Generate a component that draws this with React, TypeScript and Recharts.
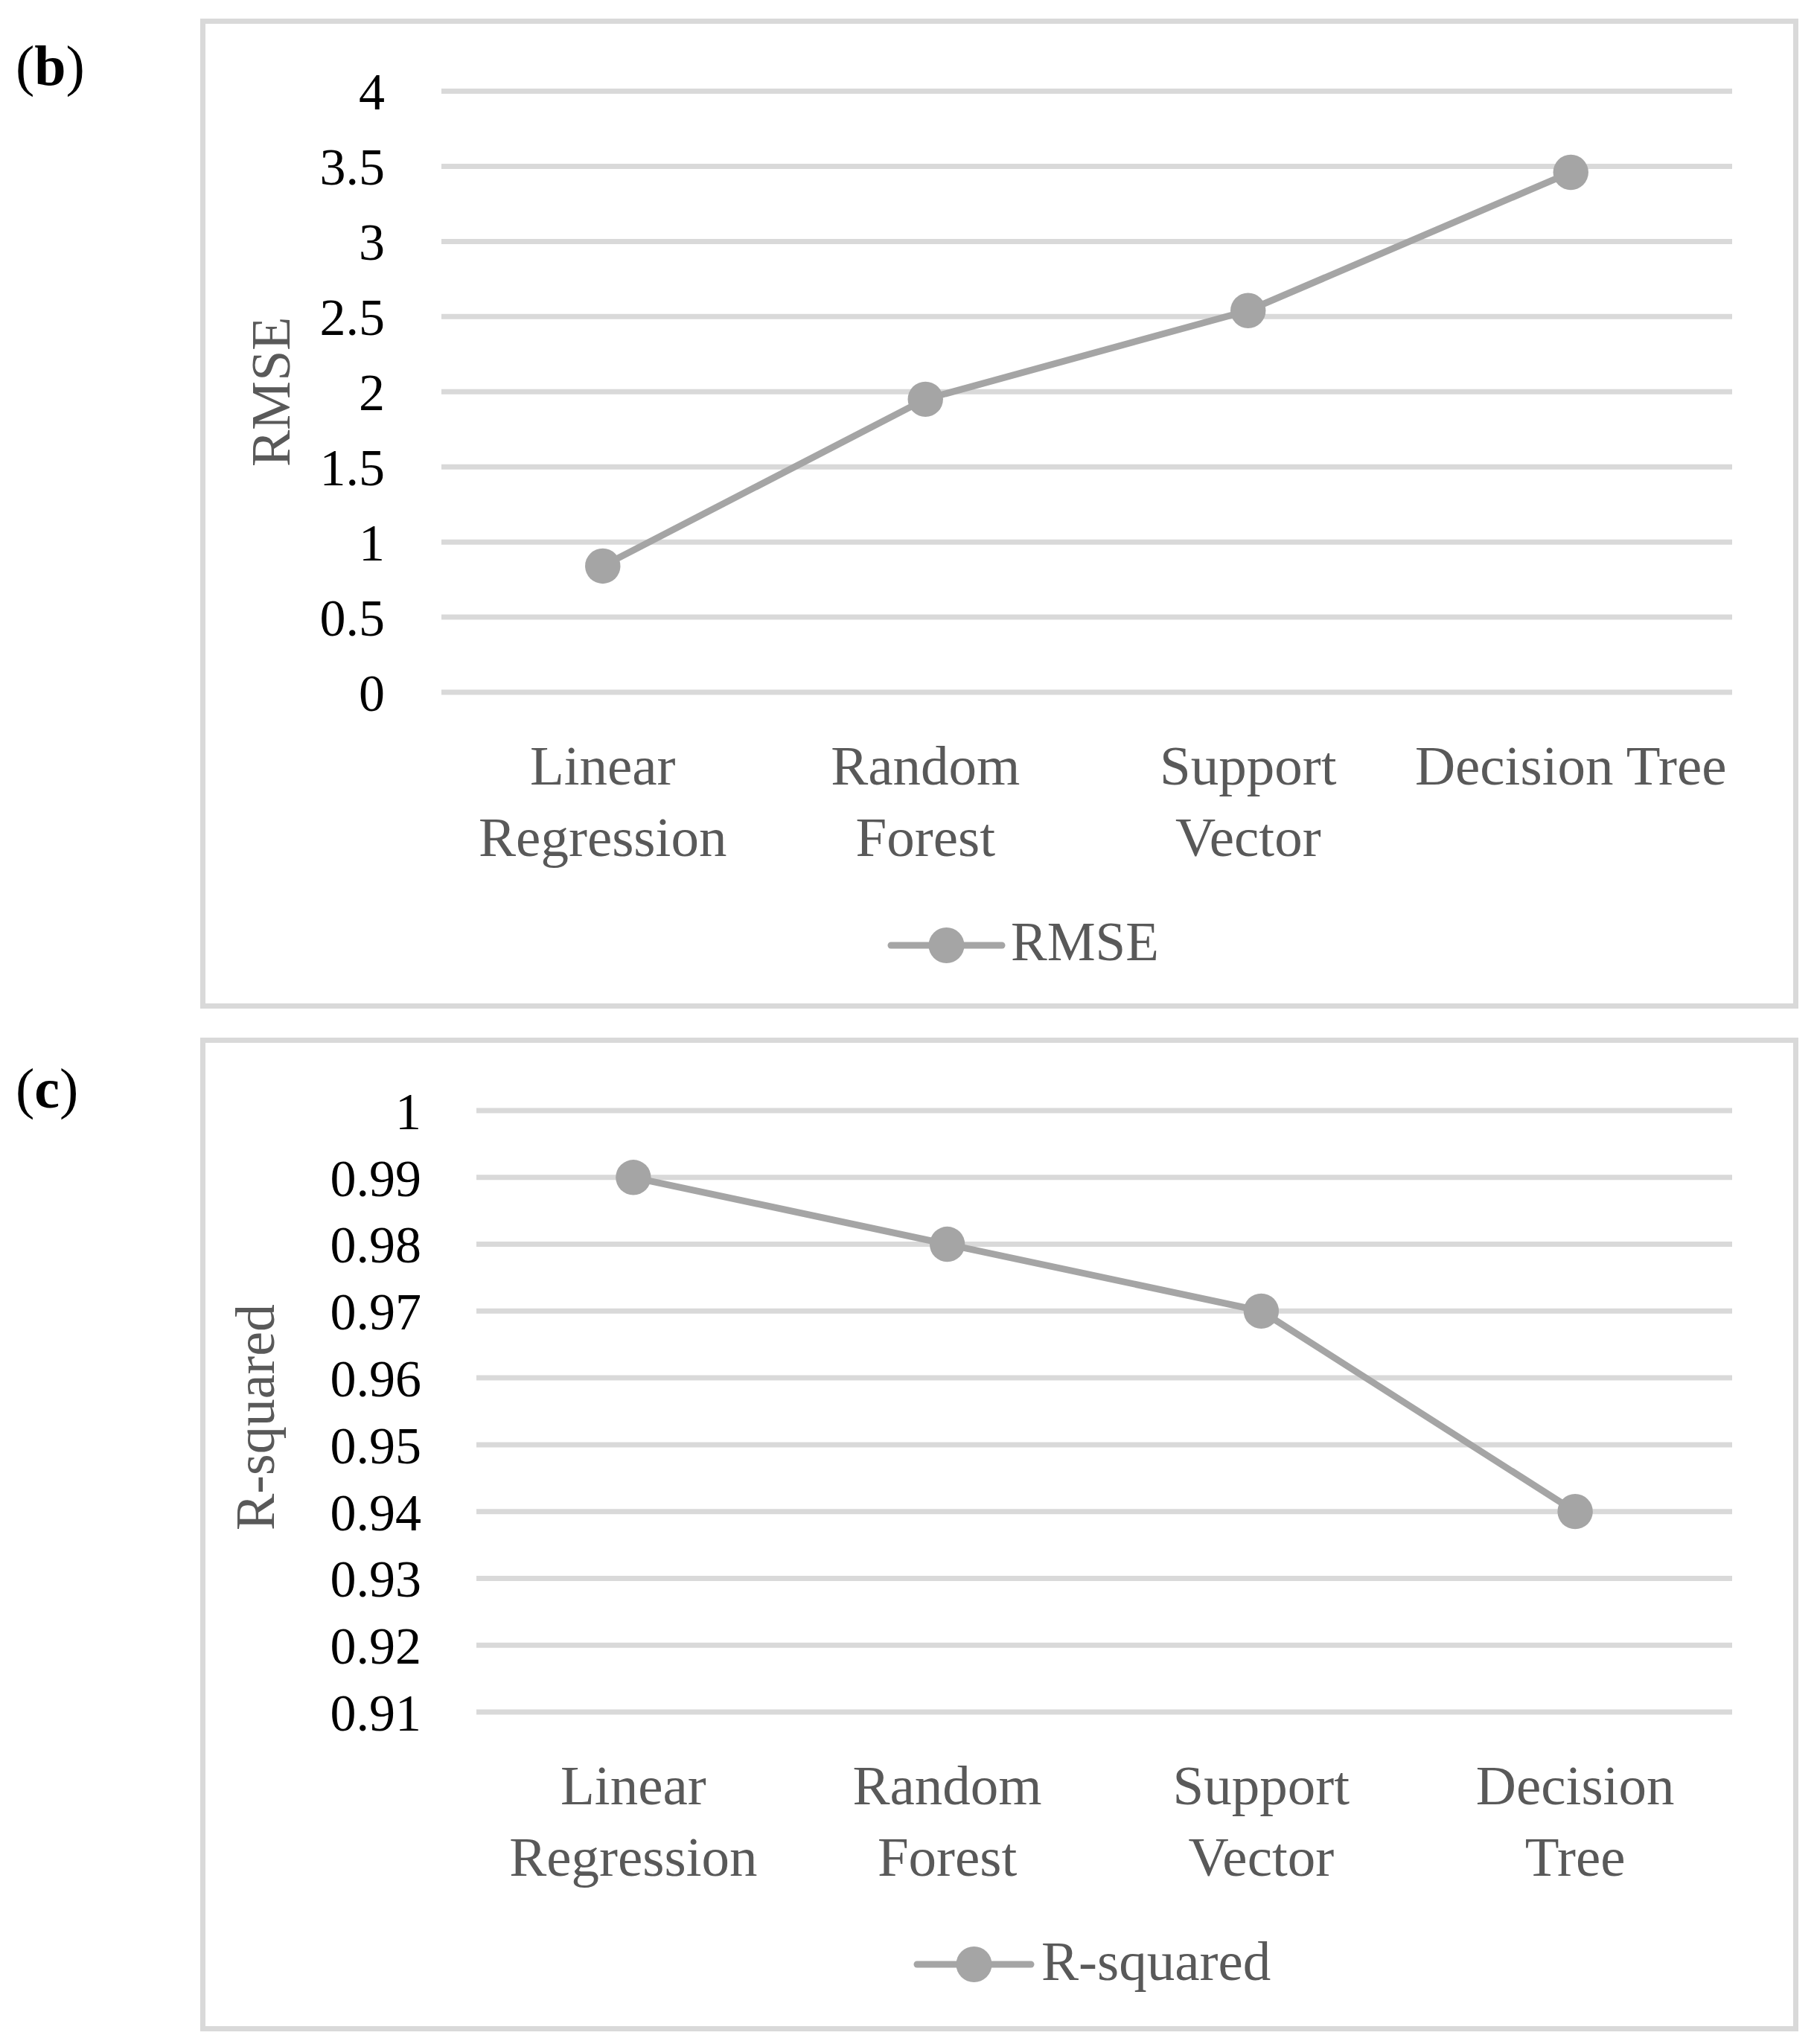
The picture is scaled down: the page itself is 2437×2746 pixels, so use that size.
import React from 'react';
import { LineChart, Line, XAxis, YAxis, CartesianGrid, Legend } from 'recharts';

const FONT = '"Liberation Serif", "Times New Roman", serif';

const models = ['Linear Regression', 'Random Forest', 'Support Vector', 'Decision Tree'];
const rmseValues = [0.84, 1.95, 2.54, 3.46];
const r2Values = [0.99, 0.98, 0.97, 0.94];
const rmseTicks = [0, 0.5, 1, 1.5, 2, 2.5, 3, 3.5, 4];
const r2Ticks = [0.91, 0.92, 0.93, 0.94, 0.95, 0.96, 0.97, 0.98, 0.99, 1];
const rmseCategoryLines = [['Linear', 'Regression'], ['Random', 'Forest'], ['Support', 'Vector'], ['Decision Tree']];
const r2CategoryLines = [['Linear', 'Regression'], ['Random', 'Forest'], ['Support', 'Vector'], ['Decision', 'Tree']];

const rmseData = models.map((name, i) => ({ name, RMSE: rmseValues[i] }));
const r2Data = models.map((name, i) => ({ name, 'R-squared': r2Values[i] }));

const LINE_COLOR = '#A5A5A5';
const GRID_COLOR = '#D9D9D9';
const TEXT_GRAY = '#595959';

function makeCategoryTick(lines: string[][]) {
  return (props: any) => {
    const { x, y, payload } = props;
    const idx = models.indexOf(payload.value);
    const ls = lines[idx] || [payload.value];
    return (
      <g>
        {ls.map((t, i) => (
          <text
            key={i}
            x={x}
            y={y + 124 + i * 96}
            textAnchor="middle"
            fill={TEXT_GRAY}
            fontSize={75}
            fontFamily={FONT}
          >
            {t}
          </text>
        ))}
      </g>
    );
  };
}

function makeTitle(text: string, xPos: number, dy: number) {
  return (props: any) => {
    const vb = props.viewBox || {};
    const cy = vb.y + vb.height / 2 + dy;
    return (
      <text
        transform={`translate(${vb.x + xPos},${cy}) rotate(-90)`}
        textAnchor="middle"
        fill={TEXT_GRAY}
        fontSize={74}
        fontFamily={FONT}
      >
        {text}
      </text>
    );
  };
}

function makeLegend(lineX1: number, lineX2: number, textX: number, textY: number, fontSize: number) {
  return (props: any) => {
    const item = (props.payload && props.payload[0]) || { value: '' };
    const cx = (lineX1 + lineX2) / 2;
    return (
      <svg width={600} height={100} style={{ display: 'block', overflow: 'visible' }}>
        <line x1={lineX1} y1={50} x2={lineX2} y2={50} stroke={LINE_COLOR} strokeWidth={9} strokeLinecap="round" />
        <circle cx={cx} cy={50} r={24} fill={LINE_COLOR} />
        <text x={textX} y={textY} fill={TEXT_GRAY} fontSize={fontSize} fontFamily={FONT}>
          {item.value}
        </text>
      </svg>
    );
  };
}

const boxStyle = (top: number, height: number): React.CSSProperties => ({
  position: 'absolute',
  left: 269,
  top,
  width: 2147,
  height,
  border: `7px solid ${GRID_COLOR}`,
  boxSizing: 'border-box',
  background: '#fff',
});

export default function App() {
  return (
    <div style={{ position: 'absolute', left: 0, top: 0, width: 2437, height: 2746, background: '#fff', overflow: 'hidden' }}>
      <svg width={240} height={2746} style={{ position: 'absolute', left: 0, top: 0 }}>
        <text x={21} y={114} fontSize={76} fontFamily={FONT} fill="#000">
          <tspan>(</tspan>
          <tspan fontWeight="bold">b</tspan>
          <tspan>)</tspan>
        </text>
        <text x={21} y={1488} fontSize={76} fontFamily={FONT} fill="#000">
          <tspan>(</tspan>
          <tspan fontWeight="bold">c</tspan>
          <tspan>)</tspan>
        </text>
      </svg>

      <div style={boxStyle(25, 1330)}>
        <LineChart width={2133} height={1316} data={rmseData} margin={{ top: 90.5, right: 82, left: 0, bottom: 0 }}>
          <CartesianGrid vertical={false} stroke={GRID_COLOR} strokeWidth={7} />
          <XAxis
            dataKey="name"
            type="category"
            scale="band"
            height={418}
            axisLine={false}
            tickLine={false}
            tickSize={0}
            tickMargin={0}
            interval={0}
            tick={makeCategoryTick(rmseCategoryLines)}
          />
          <YAxis
            type="number"
            domain={[0, 4]}
            ticks={rmseTicks}
            width={317}
            axisLine={false}
            tickLine={false}
            tickSize={0}
            tickMargin={76}
            interval={0}
            tick={{ fill: '#000', fontSize: 70, fontFamily: FONT }}
            label={{ content: makeTitle('RMSE', 113, 0) }}
          />
          <Legend
            layout="horizontal"
            verticalAlign="middle"
            align="center"
            wrapperStyle={{ left: 898, top: 1188, width: 600, height: 100 }}
            content={makeLegend(23, 172, 184, 70, 73)}
          />
          <Line
            type="linear"
            dataKey="RMSE"
            stroke={LINE_COLOR}
            strokeWidth={9}
            dot={{ r: 23.7, fill: LINE_COLOR, stroke: 'none' }}
            activeDot={false}
            isAnimationActive={false}
          />
        </LineChart>
      </div>

      <div style={boxStyle(1394, 1335)}>
        <LineChart width={2133} height={1321} data={r2Data} margin={{ top: 91, right: 82, left: 0, bottom: 0 }}>
          <CartesianGrid vertical={false} stroke={GRID_COLOR} strokeWidth={7} />
          <XAxis
            dataKey="name"
            type="category"
            scale="band"
            height={422}
            axisLine={false}
            tickLine={false}
            tickSize={0}
            tickMargin={0}
            interval={0}
            tick={makeCategoryTick(r2CategoryLines)}
          />
          <YAxis
            type="number"
            domain={[0.91, 1]}
            ticks={r2Ticks}
            width={364}
            axisLine={false}
            tickLine={false}
            tickSize={0}
            tickMargin={74}
            interval={0}
            tick={{ fill: '#000', fontSize: 70, fontFamily: FONT }}
            label={{ content: makeTitle('R-squared', 92, 8) }}
          />
          <Legend
            layout="horizontal"
            verticalAlign="middle"
            align="center"
            wrapperStyle={{ left: 933, top: 1188, width: 600, height: 100 }}
            content={makeLegend(23, 176, 190, 71, 75)}
          />
          <Line
            type="linear"
            dataKey="R-squared"
            stroke={LINE_COLOR}
            strokeWidth={9}
            dot={{ r: 23.7, fill: LINE_COLOR, stroke: 'none' }}
            activeDot={false}
            isAnimationActive={false}
          />
        </LineChart>
      </div>
    </div>
  );
}
